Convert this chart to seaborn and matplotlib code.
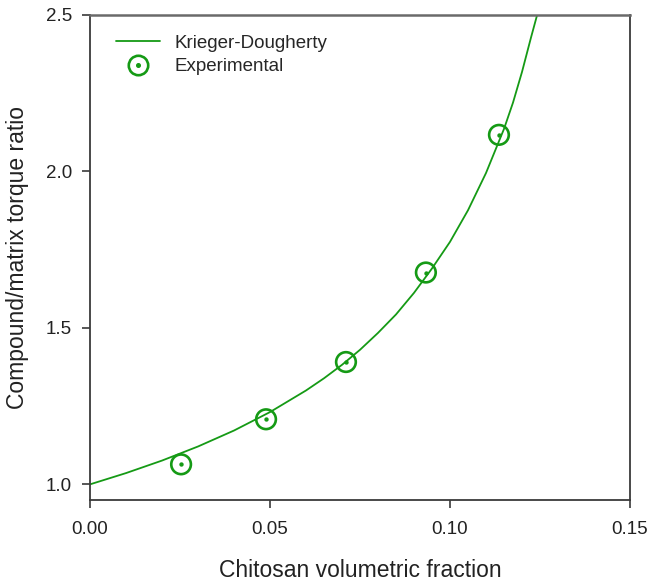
import matplotlib
matplotlib.use("Agg")
import matplotlib.pyplot as plt
from matplotlib.lines import Line2D
from matplotlib.legend_handler import HandlerTuple
import seaborn as sns
import pandas as pd

# Krieger-Dougherty model curve
curve_x = [0.000, 0.010, 0.020, 0.030, 0.040, 0.050, 0.060, 0.065, 0.070,
           0.075, 0.080, 0.085, 0.090, 0.095, 0.100, 0.105, 0.110, 0.115,
           0.1175, 0.120, 0.1225, 0.1242]
curve_y = [1.000, 1.036, 1.076, 1.121, 1.172, 1.231, 1.300, 1.339, 1.382,
           1.430, 1.484, 1.543, 1.612, 1.690, 1.775, 1.876, 1.995, 2.136,
           2.220, 2.318, 2.428, 2.50]

# Experimental points
exp_x = [0.0253, 0.0489, 0.0711, 0.0933, 0.1136]
exp_y = [1.064, 1.208, 1.391, 1.677, 2.117]

x_ticks = [0.00, 0.05, 0.10, 0.15]
x_ticklabels = ["0.00", "0.05", "0.10", "0.15"]
y_ticks = [1.0, 1.5, 2.0, 2.5]
y_ticklabels = ["1.0", "1.5", "2.0", "2.5"]

GREEN = "#159a15"

sns.set_style("white")
plt.rcParams["font.family"] = ["Liberation Sans", "DejaVu Sans"]

fig = plt.figure(figsize=(6.5, 5.83), dpi=100)
ax = fig.add_axes([90 / 650, 1 - 500 / 583, 540 / 650, 485 / 583])

df_curve = pd.DataFrame({"x": curve_x, "y": curve_y})
df_exp = pd.DataFrame({"x": exp_x, "y": exp_y})

sns.lineplot(data=df_curve, x="x", y="y", ax=ax, color=GREEN, lw=1.3,
             sort=False, estimator=None, clip_on=True)
sns.scatterplot(data=df_exp, x="x", y="y", ax=ax, marker="o", s=200,
                facecolor="none", edgecolor=GREEN, linewidth=1.9, zorder=3)
sns.scatterplot(data=df_exp, x="x", y="y", ax=ax, marker="o", s=10,
                color=GREEN, edgecolor=GREEN, linewidth=0, zorder=4)

ax.set_xlim(0, 0.15)
ax.set_ylim(0.95, 2.5)
ax.set_xticks(x_ticks)
ax.set_xticklabels(x_ticklabels)
ax.set_yticks(y_ticks)
ax.set_yticklabels(y_ticklabels)

for s in ax.spines.values():
    s.set_visible(True)
    s.set_color("#3a3a3a")
    s.set_linewidth(1.3)
ax.spines["top"].set_color("#6a6a6a")
ax.spines["top"].set_linewidth(1.8)

ax.tick_params(axis="both", which="major", direction="out", length=6,
               width=1.2, color="#3a3a3a", labelsize=13.5, labelcolor="#222222",
               bottom=True, left=True, top=False, right=False)
ax.tick_params(axis="x", pad=9)
ax.tick_params(axis="y", pad=7)

ax.set_xlabel("Chitosan volumetric fraction", fontsize=16.5, labelpad=15,
              color="#222222")
ax.set_ylabel("Compound/matrix torque ratio", fontsize=16.5, labelpad=12,
              color="#222222")

h_line = Line2D([], [], color=GREEN, lw=1.3)
h_ring = Line2D([], [], ls="none", marker="o", markersize=14,
                markerfacecolor="none", markeredgecolor=GREEN,
                markeredgewidth=1.9)
h_dot = Line2D([], [], ls="none", marker="o", markersize=2.6,
               markerfacecolor=GREEN, markeredgecolor=GREEN)
ax.legend([h_line, (h_ring, h_dot)], ["Krieger-Dougherty", "Experimental"],
          handler_map={tuple: HandlerTuple(ndivide=1, pad=0)},
          loc="upper left", bbox_to_anchor=(0.035, 0.975), frameon=False,
          fontsize=13.5, handlelength=2.3, handletextpad=0.8,
          labelspacing=0.35, borderaxespad=0)

fig.savefig("out.png", dpi=100)
